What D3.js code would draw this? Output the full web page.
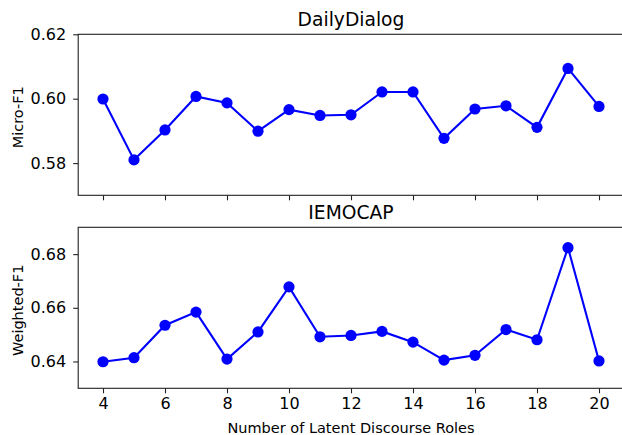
<!DOCTYPE html>
<html>
<head>
<meta charset="utf-8">
<script src="https://cdn.jsdelivr.net/npm/d3@7"></script>
<style>
  body { margin: 0; background: #fff; }
  svg { display: block; font-family: "DejaVu Sans", sans-serif; }
  .tick text { fill: #000; }
</style>
</head>
<body>
<svg width="622" height="435"></svg>
<script>
// number of latent discourse roles
const roles = [4, 5, 6, 7, 8, 9, 10, 11, 12, 13, 14, 15, 16, 17, 18, 19, 20];
// DailyDialog micro-F1
const dailyDialog = [0.5999, 0.5810, 0.5903, 0.6007, 0.5987, 0.5899, 0.5966, 0.5948, 0.5950,
                     0.6021, 0.6021, 0.5877, 0.5968, 0.5978, 0.5911, 0.6094, 0.5976];
// IEMOCAP weighted-F1
const iemocap = [0.6399, 0.6414, 0.6535, 0.6584, 0.6409, 0.6510, 0.6678, 0.6492, 0.6497,
                 0.6512, 0.6472, 0.6405, 0.6423, 0.6519, 0.6481, 0.6824, 0.6402];
const xTicks = [4, 6, 8, 10, 12, 14, 16, 18, 20];
const ddTicks = [0.58, 0.60, 0.62];
const ieTicks = [0.64, 0.66, 0.68];

const svg = d3.select('svg');
const x = d3.scaleLinear().domain([3.2, 20.8]).range([78.2, 623.8]);

const panels = [
    { title: 'DailyDialog', label: 'Micro-F1', values: dailyDialog, ticks: ddTicks,
      domain: [0.57, 0.62], top: 34.3, bottom: 195.3, showX: false },
    { title: 'IEMOCAP', label: 'Weighted-F1', values: iemocap, ticks: ieTicks,
      domain: [0.63, 0.69], top: 227.3, bottom: 388.3, showX: true }
];

panels.forEach(p => {
    const y = d3.scaleLinear().domain(p.domain).range([p.bottom, p.top]);
    const g = svg.append('g');

    // data line + markers
    const line = d3.line().x((d, i) => x(roles[i])).y(d => y(d));
    g.append('path')
        .datum(p.values)
        .attr('d', line)
        .attr('fill', 'none')
        .attr('stroke', '#0000ff')
        .attr('stroke-width', 2.1);
    g.selectAll('circle')
        .data(p.values)
        .join('circle')
        .attr('cx', (d, i) => x(roles[i]))
        .attr('cy', d => y(d))
        .attr('r', 5.6)
        .attr('fill', '#0000ff');

    // axes
    const xAxis = d3.axisBottom(x).tickValues(xTicks).tickSize(5).tickPadding(4)
        .tickFormat(p.showX ? d3.format('d') : '');
    const gx = g.append('g').attr('transform', `translate(0,${p.bottom})`).call(xAxis);
    const gy = g.append('g').attr('transform', `translate(${x.range()[0]},0)`)
        .call(d3.axisLeft(y).tickValues(p.ticks).tickSize(5).tickPadding(7)
            .tickFormat(d3.format('.2f')));
    [gx, gy].forEach(a => {
        a.attr('font-family', '"DejaVu Sans", sans-serif').attr('font-size', 16);
        a.select('.domain').remove();
        a.selectAll('.tick line').attr('stroke', '#222').attr('stroke-width', 1.1);
    });

    // frame
    g.append('rect')
        .attr('x', x.range()[0]).attr('y', p.top)
        .attr('width', x.range()[1] - x.range()[0]).attr('height', p.bottom - p.top)
        .attr('fill', 'none').attr('stroke', '#222').attr('stroke-width', 1.1);

    g.append('text')
        .attr('x', 351).attr('y', p.top - 8.3)
        .attr('text-anchor', 'middle').attr('font-size', 18.7)
        .text(p.title);

    const cy = (p.top + p.bottom) / 2 + 2.5;
    g.append('text')
        .attr('transform', `translate(23.3,${cy}) rotate(-90)`)
        .attr('text-anchor', 'middle').attr('font-size', 14.5)
        .text(p.label);
});

svg.append('text')
    .attr('x', 351).attr('y', 433.3)
    .attr('text-anchor', 'middle').attr('font-size', 14.5)
    .text('Number of Latent Discourse Roles');
</script>
</body>
</html>
